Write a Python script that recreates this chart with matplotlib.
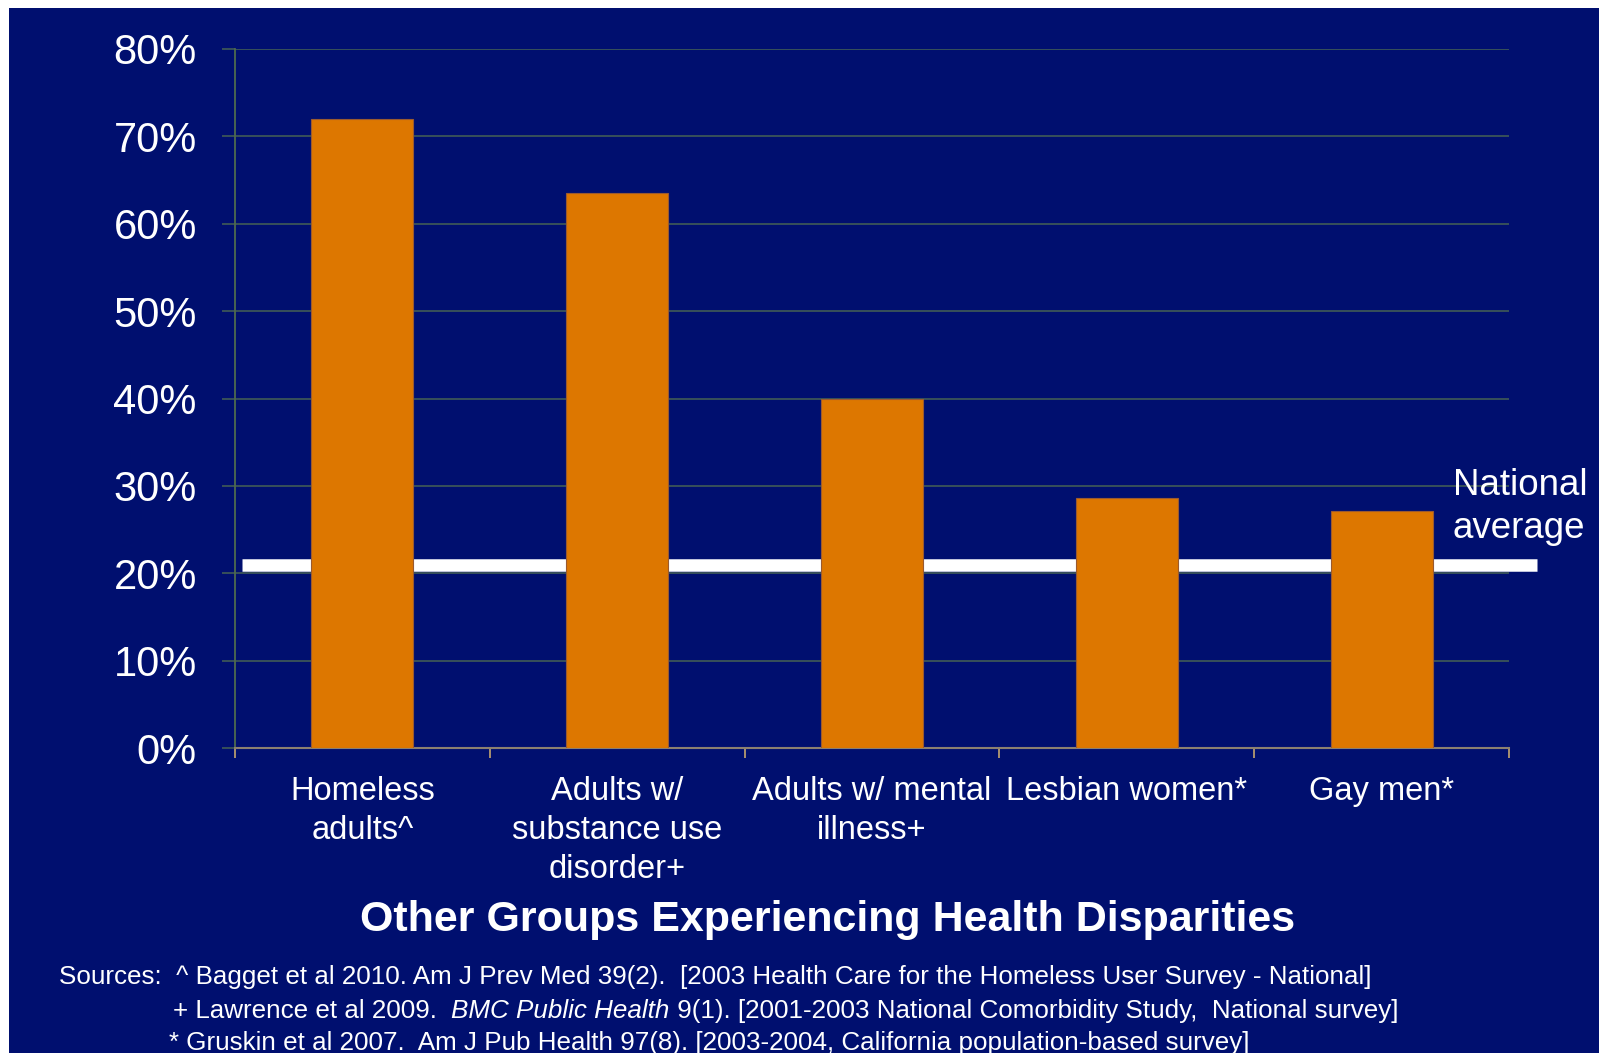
import matplotlib.pyplot as plt
from matplotlib.patches import Rectangle
from matplotlib.ticker import FixedLocator

# chart data
groups = ['Homeless\nadults^', 'Adults w/\nsubstance use\ndisorder+',
          'Adults w/ mental\nillness+', 'Lesbian women*', 'Gay men*']
smoking_rate = [72, 63.5, 40, 28.6, 27.1]
national_avg = 21
y_ticks = [0, 10, 20, 30, 40, 50, 60, 70, 80]

source_lines = [
    [('Sources:  ^ Bagget et al 2010. Am J Prev Med 39(2).  [2003 Health Care for the Homeless User Survey - National]', 'normal')],
    [('+ Lawrence et al 2009.  ', 'normal'), ('BMC Public Health', 'italic'),
     (' 9(1). [2001-2003 National Comorbidity Study,  National survey]', 'normal')],
    [('* Gruskin et al 2007.  Am J Pub Health 97(8). [2003-2004, California population-based survey]', 'normal')],
]

navy = '#000F6F'
orange = '#DD7700'
grid_col = '#3B5558'
axis_col = '#8C8070'

W, H = 1599, 1053
plt.rcParams['font.family'] = ['Liberation Sans', 'DejaVu Sans']

fig = plt.figure(figsize=(W / 100, H / 100), dpi=100, facecolor='white')
# navy slide background, leaving a thin white strip top and left
fig.patches.append(Rectangle((9 / W, 0), 1 - 9 / W, 1 - 8 / H, transform=fig.transFigure,
                             facecolor=navy, edgecolor='none', zorder=-5))

ax = fig.add_axes([235 / W, 1 - 748 / H, (1509 - 235) / W, (748 - 49) / H])
ax.set_facecolor(navy)
ax.set_xlim(-0.5, 4.5)
ax.set_ylim(0, 80)

x = range(len(groups))
ax.bar(x, smoking_rate, width=0.4, color=orange, edgecolor='#9A5A30', linewidth=0.8, zorder=3)

# national average line runs past the plot area
ax.plot([-0.4725, 4.61], [national_avg, national_avg], color='white', lw=9.0,
        solid_capstyle='butt', clip_on=False, zorder=2)
ax.text(4.28, 27.6, 'National\naverage', color='white', fontsize=26.5, ha='left', va='center',
        linespacing=1.32, zorder=4)

ax.set_yticks(y_ticks)
ax.set_yticklabels([f'{v}%' for v in y_ticks])
ax.yaxis.grid(True, color=grid_col, lw=1.3, zorder=1)
ax.tick_params(axis='y', colors=grid_col, length=9.5, width=1.3, pad=18,
               labelcolor='white', labelsize=30)

ax.set_xticks(list(x))
ax.set_xticklabels(groups)
ax.xaxis.set_minor_locator(FixedLocator([i - 0.5 for i in range(len(groups) + 1)]))
ax.tick_params(axis='x', which='major', length=0, pad=20, labelcolor='white', labelsize=23.5)
ax.tick_params(axis='x', which='minor', length=7.5, width=1.3, color='#B59A70')
for lbl in ax.get_xticklabels():
    lbl.set_linespacing(1.34)

for side in ['top', 'right']:
    ax.spines[side].set_visible(False)
ax.spines['left'].set_color('#4E6A4E')
ax.spines['left'].set_linewidth(1.3)
ax.spines['bottom'].set_color(axis_col)
ax.spines['bottom'].set_linewidth(1.5)

fig.text(828 / W, 1 - 920 / H, 'Other Groups Experiencing Health Disparities', color='white',
         fontsize=31, fontweight='bold', ha='center', va='center')

# source notes, with an italic journal name in the second line
renderer = fig.canvas.get_renderer()
line_starts = [(59, 977), (173, 1011), (169, 1043)]
for (x0, y0), parts in zip(line_starts, source_lines):
    xp = x0
    for txt, style in parts:
        t = fig.text(xp / W, 1 - y0 / H, txt, color='white', fontsize=18.7,
                     style=style, ha='left', va='center')
        xp += t.get_window_extent(renderer).width

fig.savefig('out.png', dpi=100, facecolor='white')
